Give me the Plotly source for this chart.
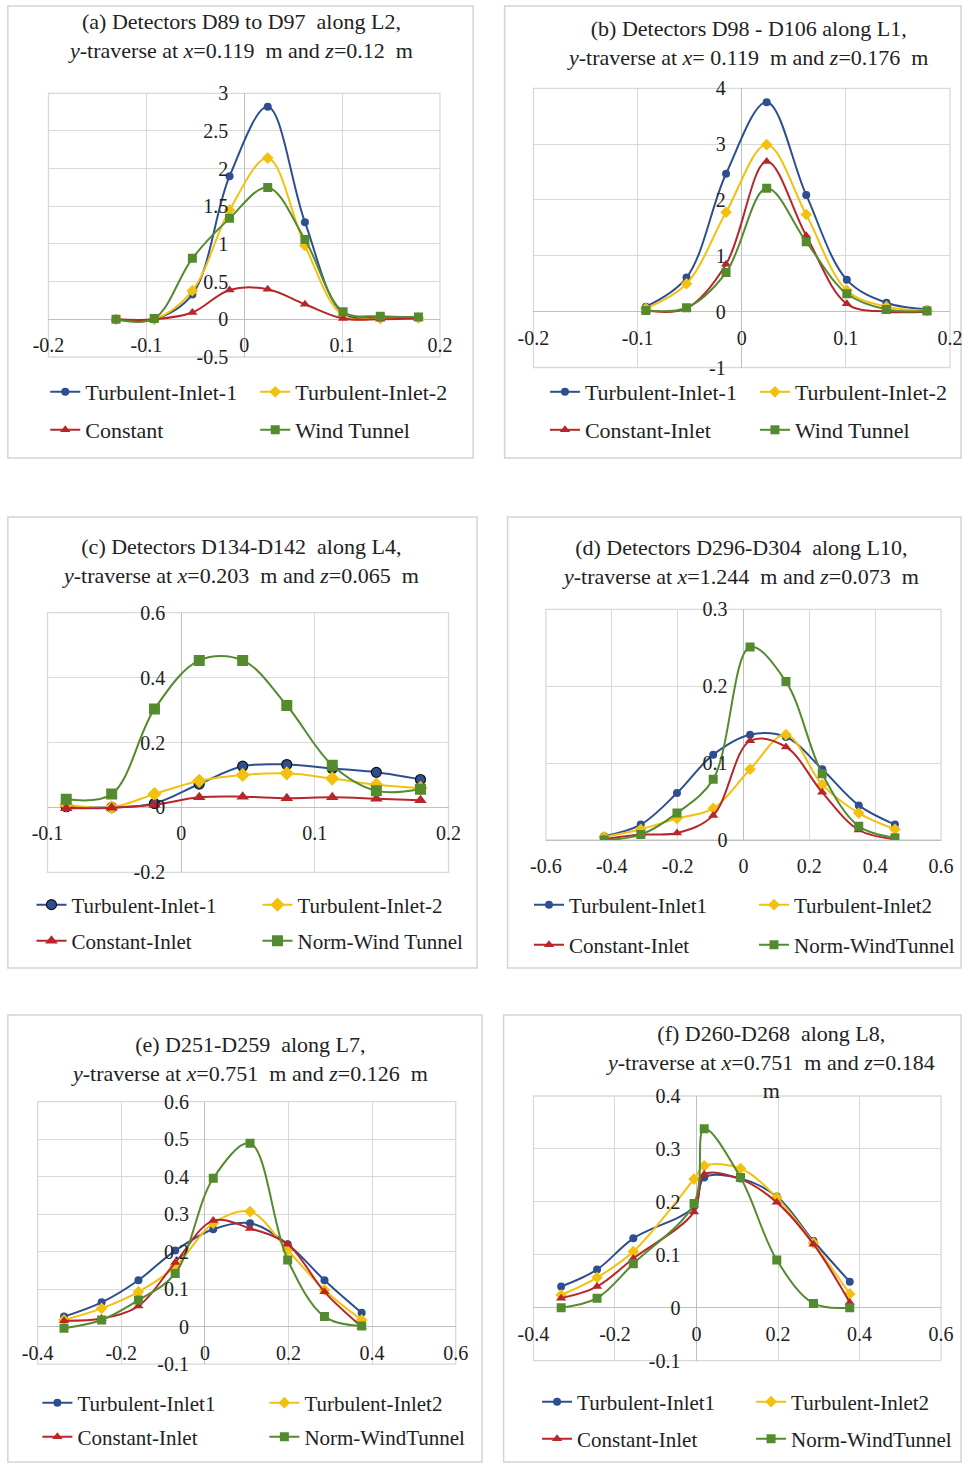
import plotly.graph_objects as go

W, H = 979, 1466
FONT = "Liberation Serif"
TXT = "#222222"

# ---------------- data ----------------
# (a) D89-D97 along L2
a_y = [-0.131, -0.092, -0.053, -0.015, 0.024, 0.062, 0.101, 0.139, 0.178]
a_ti1 = [0.0, 0.0, 0.33, 1.90, 2.82, 1.29, 0.08, 0.02, 0.02]
a_ti2 = [0.0, 0.0, 0.38, 1.45, 2.14, 0.98, 0.05, 0.01, 0.02]
a_con = [0.0, 0.0, 0.09, 0.39, 0.40, 0.20, 0.01, 0.0, 0.01]
a_wt = [0.0, 0.01, 0.81, 1.34, 1.75, 1.06, 0.10, 0.04, 0.03]
a_names = ["Turbulent-Inlet-1", "Turbulent-Inlet-2", "Constant", "Wind Tunnel"]

# (b) D98-D106 along L1
b_y = [-0.092, -0.053, -0.015, 0.024, 0.062, 0.101, 0.139, 0.178]
b_ti1 = [0.09, 0.61, 2.47, 3.75, 2.09, 0.57, 0.16, 0.04]
b_ti2 = [0.06, 0.50, 1.78, 2.99, 1.74, 0.38, 0.09, 0.02]
b_con = [0.02, 0.06, 0.85, 2.69, 1.36, 0.14, 0.0, 0.0]
b_wt = [0.02, 0.07, 0.70, 2.21, 1.25, 0.32, 0.04, 0.01]
b_names = ["Turbulent-Inlet-1", "Turbulent-Inlet-2", "Constant-Inlet", "Wind Tunnel"]

# (c) D134-D142 along L4
c_y = [-0.086, -0.052, -0.020, 0.0135, 0.046, 0.079, 0.113, 0.146, 0.179]
c_ti1 = [0.002, 0.0, 0.012, 0.072, 0.127, 0.132, 0.120, 0.108, 0.086]
c_ti2 = [0.008, 0.0, 0.041, 0.082, 0.100, 0.105, 0.089, 0.070, 0.060]
c_con = [-0.003, -0.001, 0.008, 0.031, 0.033, 0.028, 0.031, 0.027, 0.022]
c_wt = [0.025, 0.041, 0.303, 0.453, 0.453, 0.314, 0.130, 0.051, 0.056]
c_names = ["Turbulent-Inlet-1", "Turbulent-Inlet-2", "Constant-Inlet", "Norm-Wind Tunnel"]

# (d) D296-D304 along L10
d_y = [-0.423, -0.312, -0.202, -0.092, 0.020, 0.129, 0.239, 0.350, 0.460]
d_ti1 = [0.005, 0.020, 0.061, 0.111, 0.137, 0.134, 0.092, 0.045, 0.020]
d_ti2 = [0.004, 0.014, 0.028, 0.041, 0.092, 0.137, 0.072, 0.035, 0.014]
d_con = [0.001, 0.007, 0.009, 0.032, 0.129, 0.121, 0.062, 0.013, 0.001]
d_wt = [0.0, 0.007, 0.035, 0.079, 0.251, 0.206, 0.086, 0.018, 0.003]
d_names = ["Turbulent-Inlet1", "Turbulent-Inlet2", "Constant-Inlet", "Norm-WindTunnel"]

# (e) D251-D259 along L7
e_y = [-0.337, -0.247, -0.159, -0.071, 0.020, 0.108, 0.198, 0.286, 0.375]
e_ti1 = [0.027, 0.065, 0.124, 0.203, 0.260, 0.276, 0.220, 0.124, 0.037]
e_ti2 = [0.018, 0.049, 0.093, 0.160, 0.276, 0.307, 0.204, 0.098, 0.018]
e_con = [0.016, 0.022, 0.055, 0.171, 0.283, 0.262, 0.220, 0.093, 0.0]
e_wt = [-0.004, 0.018, 0.071, 0.142, 0.396, 0.489, 0.178, 0.027, 0.002]
e_names = ["Turbulent-Inlet1", "Turbulent-Inlet2", "Constant-Inlet", "Norm-WindTunnel"]

# (f) D260-D268 along L8
f_y = [-0.332, -0.244, -0.155, -0.006, 0.019, 0.108, 0.197, 0.287, 0.376]
f_ti1 = [0.040, 0.072, 0.131, 0.191, 0.246, 0.244, 0.210, 0.126, 0.049]
f_ti2 = [0.024, 0.057, 0.106, 0.243, 0.268, 0.263, 0.208, 0.122, 0.026]
f_con = [0.018, 0.040, 0.093, 0.181, 0.252, 0.243, 0.199, 0.120, 0.010]
f_wt = [0.0, 0.018, 0.083, 0.197, 0.338, 0.246, 0.090, 0.008, 0.0]
f_names = ["Turbulent-Inlet1", "Turbulent-Inlet2", "Constant-Inlet", "Norm-WindTunnel"]

# tick values / labels
xt_02 = [-0.2, -0.1, 0, 0.1, 0.2]
xt_02_lbl = ["-0.2", "-0.1", "0", "0.1", "0.2"]
xt_c = [-0.1, 0, 0.1, 0.2]
xt_c_lbl = ["-0.1", "0", "0.1", "0.2"]
xt_06 = [-0.6, -0.4, -0.2, 0, 0.2, 0.4, 0.6]
xt_06_lbl = ["-0.6", "-0.4", "-0.2", "0", "0.2", "0.4", "0.6"]
xt_46 = [-0.4, -0.2, 0, 0.2, 0.4, 0.6]
xt_46_lbl = ["-0.4", "-0.2", "0", "0.2", "0.4", "0.6"]
yt_a = [-0.5, 0, 0.5, 1, 1.5, 2, 2.5, 3]
yt_a_lbl = ["-0.5", "0", "0.5", "1", "1.5", "2", "2.5", "3"]
yt_b = [-1, 0, 1, 2, 3, 4]
yt_b_lbl = ["-1", "0", "1", "2", "3", "4"]
yt_c = [-0.2, 0, 0.2, 0.4, 0.6]
yt_c_lbl = ["-0.2", "0", "0.2", "0.4", "0.6"]
yt_d = [0, 0.1, 0.2, 0.3]
yt_d_lbl = ["0", "0.1", "0.2", "0.3"]
yt_e = [-0.1, 0, 0.1, 0.2, 0.3, 0.4, 0.5, 0.6]
yt_e_lbl = ["-0.1", "0", "0.1", "0.2", "0.3", "0.4", "0.5", "0.6"]
yt_f = [-0.1, 0, 0.1, 0.2, 0.3, 0.4]
yt_f_lbl = ["-0.1", "0", "0.1", "0.2", "0.3", "0.4"]

titles = [
    "(a) Detectors D89 to D97  along L2,<br><i>y</i>-traverse at <i>x</i>=0.119  m and <i>z</i>=0.12  m",
    "(b) Detectors D98 - D106 along L1,<br><i>y</i>-traverse at <i>x</i>= 0.119  m and <i>z</i>=0.176  m",
    "(c) Detectors D134-D142  along L4,<br><i>y</i>-traverse at <i>x</i>=0.203  m and <i>z</i>=0.065  m",
    "(d) Detectors D296-D304  along L10,<br><i>y</i>-traverse at <i>x</i>=1.244  m and <i>z</i>=0.073  m",
    "(e) D251-D259  along L7,<br><i>y</i>-traverse at <i>x</i>=0.751  m and <i>z</i>=0.126  m",
    "(f) D260-D268  along L8,<br><i>y</i>-traverse at <i>x</i>=0.751  m and <i>z</i>=0.184<br>m",
]

COLORS = ["#2e4f8f", "#f2c10f", "#b8262b", "#548b2e"]
SYMBOLS = ["circle", "diamond", "triangle-up", "square"]

# layout geometry (pixels)
panels = [
    dict(y=a_y, s=[a_ti1, a_ti2, a_con, a_wt], names=a_names, box=(8, 6, 481, 458),
         plot=(49.3, 93.3, 447.3, 357.0), xr=[-0.2, 0.2], yr=[-0.5, 3],
         xt=(xt_02, xt_02_lbl), yt=(yt_a, yt_a_lbl), tc=(245, 36), leg=(86, 392, 430, 210),
         ysd=16, msz=8, lw=2, lf=22),
    dict(y=b_y, s=[b_ti1, b_ti2, b_con, b_wt], names=b_names, box=(513, 6, 977, 458),
         plot=(542.3, 88.3, 965.7, 367.5), xr=[-0.2, 0.2], yr=[-1, 4],
         xt=(xt_02, xt_02_lbl), yt=(yt_b, yt_b_lbl), tc=(760, 43), leg=(594, 392, 430, 210),
         ysd=16, msz=8, lw=2, lf=22),
    dict(y=c_y, s=[c_ti1, c_ti2, c_con, c_wt], names=c_names, box=(8, 517, 485, 968),
         plot=(48.3, 612.7, 456.0, 872.3), xr=[-0.1, 0.2], yr=[-0.2, 0.6],
         xt=(xt_c, xt_c_lbl), yt=(yt_c, yt_c_lbl), tc=(244, 561), leg=(72, 905, 941, 226),
         ysd=16, msz=10, lw=2, lf=21),
    dict(y=d_y, s=[d_ti1, d_ti2, d_con, d_wt], names=d_names, box=(516, 517, 977, 968),
         plot=(555.0, 609.3, 956.7, 840.0), xr=[-0.6, 0.6], yr=[0, 0.3],
         xt=(xt_06, xt_06_lbl), yt=(yt_d, yt_d_lbl), tc=(753, 562), leg=(578, 905, 945, 225),
         ysd=16, msz=8, lw=2, lf=21),
    dict(y=e_y, s=[e_ti1, e_ti2, e_con, e_wt], names=e_names, box=(8, 1015, 490, 1462),
         plot=(38.3, 1101.7, 463.3, 1364.2), xr=[-0.4, 0.6], yr=[-0.1, 0.6],
         xt=(xt_46, xt_46_lbl), yt=(yt_e, yt_e_lbl), tc=(254, 1059), leg=(78, 1403, 1437, 227),
         ysd=16, msz=8, lw=2, lf=21),
    dict(y=f_y, s=[f_ti1, f_ti2, f_con, f_wt], names=f_names, box=(512, 1015, 977, 1462),
         plot=(542.3, 1096.0, 956.7, 1360.6), xr=[-0.4, 0.6], yr=[-0.1, 0.4],
         xt=(xt_46, xt_46_lbl), yt=(yt_f, yt_f_lbl), tc=(783, 1062), leg=(586, 1402, 1439, 214),
         ysd=16, msz=8, lw=2, lf=21),
]

fig = go.Figure()
layout = dict(width=W, height=H, margin=dict(l=0, r=0, t=0, b=0),
              paper_bgcolor="white", plot_bgcolor="white", showlegend=True)
shapes, annotations = [], []

for i, p in enumerate(panels):
    k = i + 1
    xs = "" if k == 1 else str(k)
    L, T, R, B = p["plot"]
    dx = [L / W, R / W]
    dy = [1 - B / H, 1 - T / H]
    xr, yr = p["xr"], p["yr"]
    ypos0 = dy[0] + (0 - yr[0]) / (yr[1] - yr[0]) * (dy[1] - dy[0])
    xpos0 = dx[0] + (0 - xr[0]) / (xr[1] - xr[0]) * (dx[1] - dx[0])
    common = dict(showgrid=True, gridcolor="#d9d9d9", gridwidth=1.3, zeroline=True,
                  zerolinecolor="#bfbfbf", zerolinewidth=1.3, showline=False, ticks="",
                  tickfont=dict(family=FONT, size=20, color=TXT), anchor="free",
                  fixedrange=True, automargin=False, tickangle=0)
    layout["xaxis" + xs] = dict(common, domain=dx, range=xr, position=ypos0,
                                tickmode="array", tickvals=p["xt"][0], ticktext=p["xt"][1],
                                ticklabelstandoff=12)
    layout["yaxis" + xs] = dict(common, domain=dy, range=yr, position=xpos0,
                                tickmode="array", tickvals=p["yt"][0], ticktext=p["yt"][1],
                                ticklabelstandoff=p["ysd"])

    # plot-area frame
    shapes.append(dict(type="rect", xref="x%s domain" % xs, yref="y%s domain" % xs,
                       x0=0, x1=1, y0=0, y1=1, line=dict(color="#d9d9d9", width=1.3),
                       fillcolor="rgba(0,0,0,0)", layer="below"))

    tx, r1, r2, sp = p["leg"]
    for row, ry in enumerate([r1, r2]):
        lk = "legend" if (2 * i + row) == 0 else "legend%d" % (2 * i + row + 1)
        layout[lk] = dict(orientation="h", x=(tx - 40) / W, xanchor="left",
                          y=1 - ry / H, yanchor="middle", bgcolor="rgba(0,0,0,0)",
                          font=dict(family=FONT, size=p["lf"], color=TXT),
                          entrywidth=sp - 45, entrywidthmode="pixels",
                          itemwidth=30, traceorder="normal", tracegroupgap=0)
    for j in range(4):
        row = 0 if j < 2 else 1
        lk = "legend" if (2 * i + row) == 0 else "legend%d" % (2 * i + row + 1)
        fig.add_trace(go.Scatter(
            x=p["y"], y=p["s"][j], name=p["names"][j], mode="lines+markers",
            line=dict(color=COLORS[j], width=p["lw"], shape="spline", smoothing=1.0),
            marker=dict(color=COLORS[j], symbol=SYMBOLS[j], size=p["msz"] + (1 if j > 0 else 0),
                        line=dict(width=1.2 if (i == 2 and j == 0) else 0, color="#111111")),
            xaxis="x" + xs, yaxis="y" + xs, legend=lk, showlegend=True, hoverinfo="skip"))

    bx0, by0, bx1, by1 = p["box"]
    shapes.append(dict(type="rect", xref="paper", yref="paper",
                       x0=bx0 / W, x1=bx1 / W, y0=1 - by1 / H, y1=1 - by0 / H,
                       line=dict(color="#d4d4d4", width=1.5), fillcolor="rgba(0,0,0,0)",
                       layer="below"))
    cx, cy = p["tc"]
    annotations.append(dict(text=titles[i], xref="paper", yref="paper", x=cx / W, y=1 - cy / H,
                            xanchor="center", yanchor="middle", showarrow=False, align="center",
                            font=dict(family=FONT, size=22, color=TXT)))

layout["shapes"] = shapes
layout["annotations"] = annotations
fig.update_layout(**layout)
fig.write_html("out.html")
